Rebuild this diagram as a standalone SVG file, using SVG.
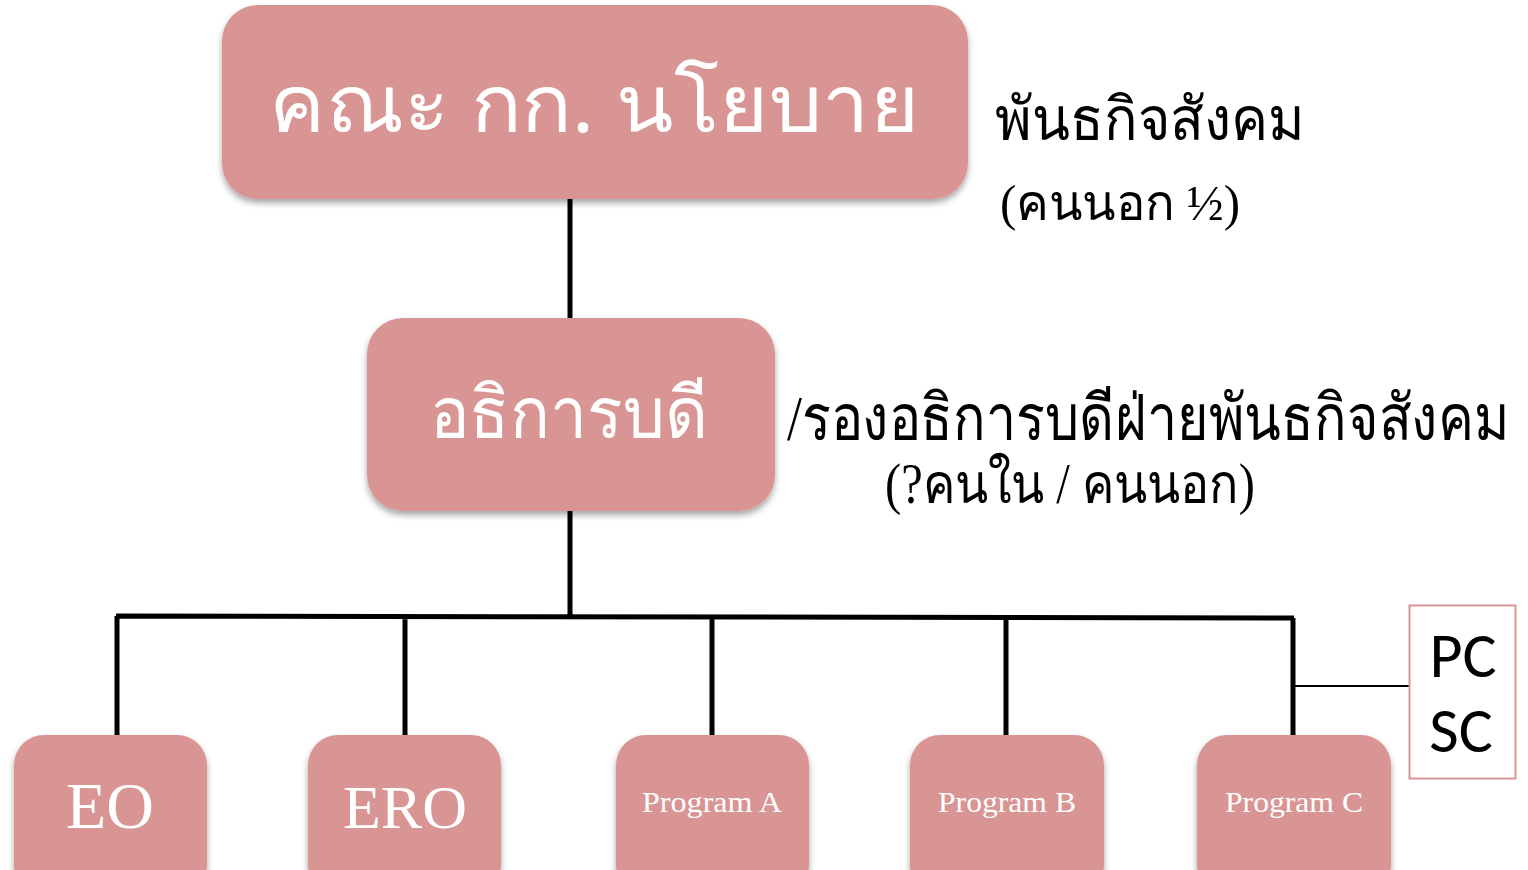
<svg xmlns="http://www.w3.org/2000/svg" width="1528" height="870" viewBox="0 0 1528 870">
<defs>
<filter id="sh" x="-10%" y="-10%" width="120%" height="130%">
<feDropShadow dx="0" dy="4" stdDeviation="3" flood-color="#000" flood-opacity="0.35"/>
</filter>
<style>
.box{fill:#D99594;filter:url(#sh)}
.wt{fill:#fff;text-anchor:middle}
.th-sans{font-family:"Noto Sans","DejaVu Sans",sans-serif}
.th-serif{font-family:"Liberation Serif","Noto Serif",serif}
.lbl{fill:#000;font-family:"Liberation Serif","Noto Serif",serif}
.conn{stroke:#000;stroke-width:5;fill:none}
</style>
</defs>
<rect width="1528" height="870" fill="#fff"/>
<g id="connectors">
<path class="conn" d="M570 198V320M570 510V617M116 616L1294 618M117 616V737M405 616V737M712 617V737M1006 617V737M1293 618V737"/>
<path d="M1294 686H1410" stroke="#000" stroke-width="2"/>
</g>
<g id="policy">
<rect class="box" x="222" y="5" width="746" height="194" rx="36"/>
<text class="wt th-sans" x="594" y="132" font-size="80" textLength="650" lengthAdjust="spacingAndGlyphs">คณะ กก. นโยบาย</text>
</g>
<g id="policy-note">
<text class="lbl" x="995" y="140" font-size="60" textLength="310" lengthAdjust="spacingAndGlyphs">พันธกิจสังคม</text>
<text class="lbl" x="1000" y="220" font-size="50" textLength="240" lengthAdjust="spacingAndGlyphs">(คนนอก ½)</text>
</g>
<g id="president">
<rect class="box" x="367" y="318" width="408" height="193" rx="36"/>
<text class="wt th-serif" x="569" y="438" font-size="72" textLength="278" lengthAdjust="spacingAndGlyphs">อธิการบดี</text>
</g>
<g id="president-note">
<text class="lbl" x="787" y="440" font-size="64" textLength="722" lengthAdjust="spacingAndGlyphs">/รองอธิการบดีฝ่ายพันธกิจสังคม</text>
<text class="lbl" x="885" y="503" font-size="56" textLength="370" lengthAdjust="spacingAndGlyphs">(?คนใน / คนนอก)</text>
</g>
<g id="eo">
<rect class="box" x="14" y="735" width="193" height="160" rx="30"/>
<text class="wt th-serif" x="110" y="828" font-size="66">EO</text>
</g>
<g id="ero">
<rect class="box" x="308" y="735" width="193" height="160" rx="30"/>
<text class="wt th-serif" x="405" y="828" font-size="62">ERO</text>
</g>
<g id="program-a">
<rect class="box" x="616" y="735" width="193" height="160" rx="30"/>
<text class="wt th-serif" x="712" y="812" font-size="30" textLength="140" lengthAdjust="spacingAndGlyphs">Program A</text>
</g>
<g id="program-b">
<rect class="box" x="910" y="735" width="194" height="160" rx="30"/>
<text class="wt th-serif" x="1007" y="812" font-size="30" textLength="138" lengthAdjust="spacingAndGlyphs">Program B</text>
</g>
<g id="program-c">
<rect class="box" x="1197" y="735" width="194" height="160" rx="30"/>
<text class="wt th-serif" x="1294" y="812" font-size="30" textLength="138" lengthAdjust="spacingAndGlyphs">Program C</text>
</g>
<g id="pcsc">
<rect x="1409.5" y="605.5" width="106" height="173" fill="#fff" stroke="#D99594" stroke-width="2"/>
<text x="1463" y="677" font-size="64" text-anchor="middle" font-family="Carlito,'Liberation Sans',sans-serif" fill="#000">PC</text>
<text x="1461" y="752" font-size="64" text-anchor="middle" font-family="Carlito,'Liberation Sans',sans-serif" fill="#000">SC</text>
</g>
</svg>
